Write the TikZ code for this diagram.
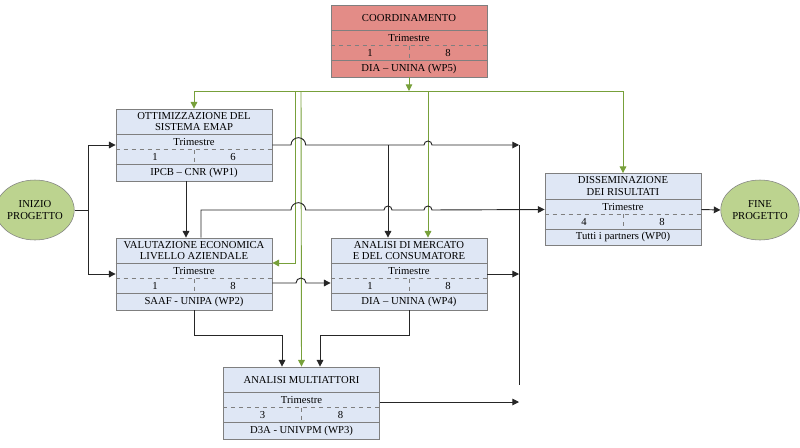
\documentclass[tikz,border=0pt]{standalone}
\usepackage{fontspec}
\setmainfont{Liberation Serif}
\usetikzlibrary{calc,shapes.geometric,arrows.meta}
\definecolor{kBlue}{HTML}{DFE7F5}
\definecolor{kRed}{HTML}{E38C87}
\definecolor{kLeaf}{HTML}{BCD38F}
\definecolor{kGreen}{HTML}{77A03A}
\definecolor{kGrey}{HTML}{7F7F7F}
\tikzset{
  wpbox/.style={draw=kGrey,line width=0.6pt,minimum width=117pt,minimum height=54pt,inner sep=0pt},
  sep/.style={draw=kGrey,line width=0.5pt},
  term/.style={ellipse,draw=kGrey,fill=kLeaf,minimum width=52.5pt,minimum height=45pt,inner sep=0pt,align=center},
  conn/.style={draw=black!85,line width=0.7pt,-{Triangle[length=5pt,width=5pt]}},
  line/.style={draw=black!85,line width=0.7pt},
  gconn/.style={draw=kGreen,line width=0.7pt,-{Triangle[length=5pt,width=5pt]}},
}
% work package box: name, centre, title, from, to, partner, fill
\newcommand{\wpnode}[7]{
  \node[wpbox,fill=#7] (#1) at (#2) {};
  \draw[sep] ($(#1.north west)+(0,26)$) -- ($(#1.north east)+(0,26)$);
  \draw[sep,dashed] ($(#1.north west)+(0,41)$) -- ($(#1.north east)+(0,41)$);
  \draw[sep] ($(#1.north west)+(0,56)$) -- ($(#1.north east)+(0,56)$);
  \draw[sep,dashed] ($(#1.north)+(0,41)$) -- ($(#1.north)+(0,56)$);
  \node[align=center] (#1-t) at ($(#1.north)+(0,13)$) {#3};
  \node (#1-q) at ($(#1.north)+(0,33.5)$) {Trimestre};
  \node (#1-a) at ($(#1.north)+(-39,48.5)$) {#4};
  \node (#1-b) at ($(#1.north)+(39,48.5)$) {#5};
  \node (#1-p) at ($(#1.north)+(0,64)$) {#6};
}
\begin{document}
\begin{tikzpicture}[x=0.75pt,y=-0.75pt,font=\fontsize{8}{8.5}\selectfont]
  \useasboundingbox (0,0) rectangle (800,447);
  % boxes
  \wpnode{coord}{409,41}{COORDINAMENTO}{1}{8}{DIA -- UNINA (WP5)}{kRed}
  \wpnode{ott}{194,145}{OTTIMIZZAZIONE DEL\\SISTEMA EMAP}{1}{6}{IPCB -- CNR (WP1)}{kBlue}
  \wpnode{val}{194,274}{VALUTAZIONE ECONOMICA\\LIVELLO AZIENDALE}{1}{8}{SAAF - UNIPA (WP2)}{kBlue}
  \wpnode{ana}{409,274}{ANALISI DI MERCATO\\E DEL CONSUMATORE}{1}{8}{DIA -- UNINA (WP4)}{kBlue}
  \wpnode{multi}{301.5,403}{ANALISI MULTIATTORI}{3}{8}{D3A - UNIVPM (WP3)}{kBlue}
  \wpnode{diss}{623,209.5}{DISSEMINAZIONE\\DEI RISULTATI}{4}{8}{Tutti i partners (WP0)}{kBlue}
  \node[term] (inizio) at (35,210) {INIZIO\\PROGETTO};
  \node[term] (fine) at (760,210) {FINE\\PROGETTO};
  \coordinate (bustop) at (519,145);
  \coordinate (busbot) at (519,385);

  % green links from coordination
  \draw[gconn] (coord.south) -- (409,91);
  \draw[gconn] (623,91) -- (194,91) -- (ott.north);
  \draw[gconn] (194,91) -| (diss.north);
  \draw[gconn] (428,91) -- ([xshift=14.25pt]ana.north);
  \draw[gconn] (295,91) |- ([yshift=8.25pt]val.east);
  \draw[gconn] (301,91) -- (multi.north);

  % black flow
  \draw[conn] (inizio.east) -- (88,210) |- (ott.west);
  \draw[conn] (88,210) |- (val.west);
  \draw[line] (bustop) -- (busbot);
  \draw[conn] (ott.east) -- (291,145) arc[start angle=180,end angle=0,radius=5.5pt]
    -- (424,145) arc[start angle=180,end angle=0,radius=3pt] -- (bustop);
  \draw[conn] (388,145) -- ([xshift=-15.75pt]ana.north);
  \draw[conn] ([xshift=-6pt]ott.south) -- ([xshift=-6pt]val.north);
  \draw[conn] ([xshift=5.25pt]val.north) |- (291,210) arc[start angle=180,end angle=0,radius=5.5pt]
    -- (384,210) arc[start angle=180,end angle=0,radius=3pt]
    -- (424,210) arc[start angle=180,end angle=0,radius=3pt] -- (diss.west);
  \draw[conn] ([yshift=-6.75pt]val.east) -- (296,283) arc[start angle=180,end angle=0,radius=3.75pt]
    -- ([yshift=-6.75pt]ana.west);
  \draw[conn] (ana.east) -- (ana.east -| bustop);
  \draw[conn] ([yshift=0.75pt]multi.east) -- ([yshift=0.75pt]multi.east -| bustop);
  \draw[conn] (val.south) -- (194,335) -| ([xshift=-14.6pt]multi.north);
  \draw[conn] (ana.south) -- (409,335) -| ([xshift=13.9pt]multi.north);
  \draw[conn] (diss.east) -- (fine.west);
\end{tikzpicture}
\end{document}
